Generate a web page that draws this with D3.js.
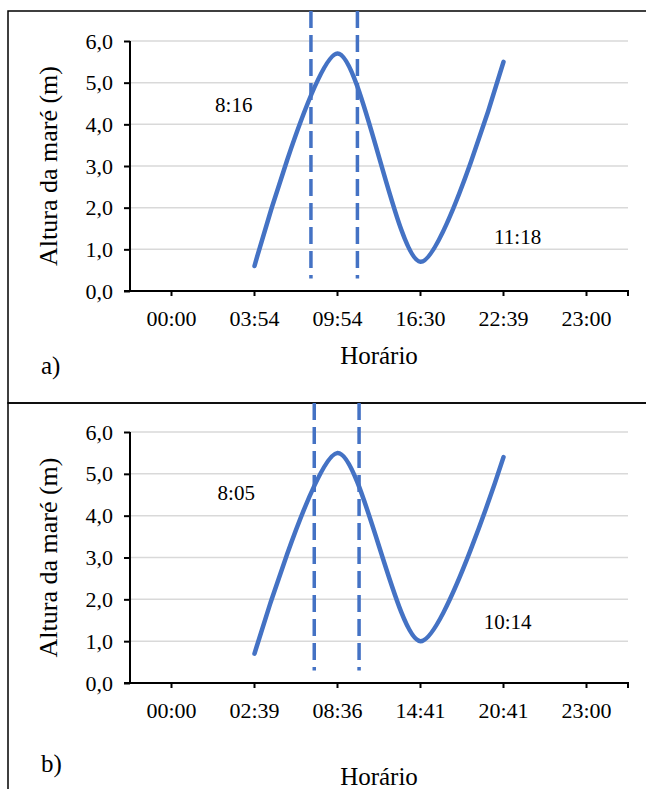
<!DOCTYPE html>
<html>
<head>
<meta charset="utf-8">
<script src="https://cdn.jsdelivr.net/npm/d3@7"></script>
<style>
  body { margin: 0; background: #fff; }
</style>
</head>
<body>
<script>
// panel a
const timesA = ["00:00", "03:54", "09:54", "16:30", "22:39", "23:00"];
const tideA = [null, 0.6, 5.7, 0.7, 5.5, null];
const markersA = [1.68, 2.24];          // dashed lines, in category-index units
const labelsA = [{ t: "8:16", i: 0.75, v: 4.4 }, { t: "11:18", i: 4.17, v: 1.25 }];

// panel b
const timesB = ["00:00", "02:39", "08:36", "14:41", "20:41", "23:00"];
const tideB = [null, 0.7, 5.5, 1.0, 5.4, null];
const markersB = [1.72, 2.26];
const labelsB = [{ t: "8:05", i: 0.78, v: 4.5 }, { t: "10:14", i: 4.05, v: 1.4 }];

const yTicks = [0, 1, 2, 3, 4, 5, 6];
const fmt = d => d.toFixed(1).replace(".", ",");
const SERIF = '"Liberation Serif", "Times New Roman", "DejaVu Serif", serif';

const W = 646, H = 789;
const svg = d3.select("body").append("svg").attr("width", W).attr("height", H);

function drawPanel(p) {
  const g = svg.append("g");

  // frame (left + top, right side runs off the page)
  g.append("rect")
    .attr("x", 8).attr("y", p.top)
    .attr("width", W + 10).attr("height", p.bottom - p.top)
    .attr("fill", "none").attr("stroke", "#000").attr("stroke-width", 1.5);

  const x = d3.scaleBand().domain(p.times).range([130, 628]);
  const xi = d3.scaleLinear().domain([0, 1]).range([x(p.times[0]) + x.bandwidth() / 2, x(p.times[1]) + x.bandwidth() / 2]);
  const y = d3.scaleLinear().domain([0, 6]).range([p.y0, p.y6]);

  // gridlines
  g.append("g").selectAll("line").data(yTicks.slice(1)).join("line")
    .attr("x1", 130).attr("x2", 628)
    .attr("y1", d => y(d)).attr("y2", d => y(d))
    .attr("stroke", "#d9d9d9").attr("stroke-width", 1.5);

  // y axis
  const ya = g.append("g").attr("transform", "translate(130,0)")
    .call(d3.axisLeft(y).tickValues(yTicks).tickFormat(fmt).tickSize(6).tickPadding(11));
  ya.select(".domain").attr("stroke-width", 2).attr("d", `M0,${y(6)}V${y(0)}`);
  ya.selectAll(".tick line").attr("stroke-width", 2);
  ya.selectAll("text").style("font-size", "22px").style("font-family", SERIF);

  // x axis
  const xa = g.append("g").attr("transform", `translate(0,${y(0)})`)
    .call(d3.axisBottom(x).tickSize(5).tickPadding(14));
  xa.select(".domain").attr("stroke-width", 2).attr("d", "M124,0H628V5");
  xa.selectAll(".tick line").attr("stroke-width", 2);
  xa.selectAll("text").style("font-size", "22px").style("font-family", SERIF);

  // dashed markers
  g.append("g").selectAll("line").data(p.markers).join("line")
    .attr("x1", d => xi(d)).attr("x2", d => xi(d))
    .attr("y1", p.top).attr("y2", y(0.3))
    .attr("stroke", "#4472c4").attr("stroke-width", 3.5)
    .attr("stroke-dasharray", "17,7");

  // tide curve
  const pts = p.times.map((t, i) => ({ t, v: p.tide[i] })).filter(d => d.v != null);
  g.append("path").datum(pts)
    .attr("fill", "none").attr("stroke", "#4472c4").attr("stroke-width", 4.5)
    .attr("stroke-linecap", "round")
    .attr("d", d3.line().x(d => x(d.t) + x.bandwidth() / 2).y(d => y(d.v)).curve(d3.curveCardinal.tension(0.15)));

  // duration labels
  g.append("g").selectAll("text").data(p.labels).join("text")
    .attr("x", d => xi(d.i)).attr("y", d => y(d.v))
    .attr("text-anchor", "middle").attr("dominant-baseline", "middle")
    .style("font-family", SERIF).style("font-size", "21px").text(d => d.t);

  // axis titles
  g.append("text")
    .attr("transform", `translate(57,${(y(0) + y(6)) / 2}) rotate(-90)`)
    .attr("text-anchor", "middle")
    .style("font-family", SERIF).style("font-size", "26px")
    .text("Altura da maré (m)");
  g.append("text").attr("x", 379).attr("y", p.titleY)
    .attr("text-anchor", "middle")
    .style("font-family", SERIF).style("font-size", "25px").text("Horário");
  g.append("text").attr("x", 41).attr("y", p.tagY)
    .style("font-family", SERIF).style("font-size", "25px").text(p.tag);
}

drawPanel({ times: timesA, tide: tideA, markers: markersA, labels: labelsA,
  top: 11, bottom: 403, y0: 291, y6: 41, titleY: 364, tagY: 374, tag: "a)" });
drawPanel({ times: timesB, tide: tideB, markers: markersB, labels: labelsB,
  top: 403, bottom: 800, y0: 683, y6: 432, titleY: 785, tagY: 772, tag: "b)" });
</script>
</body>
</html>
